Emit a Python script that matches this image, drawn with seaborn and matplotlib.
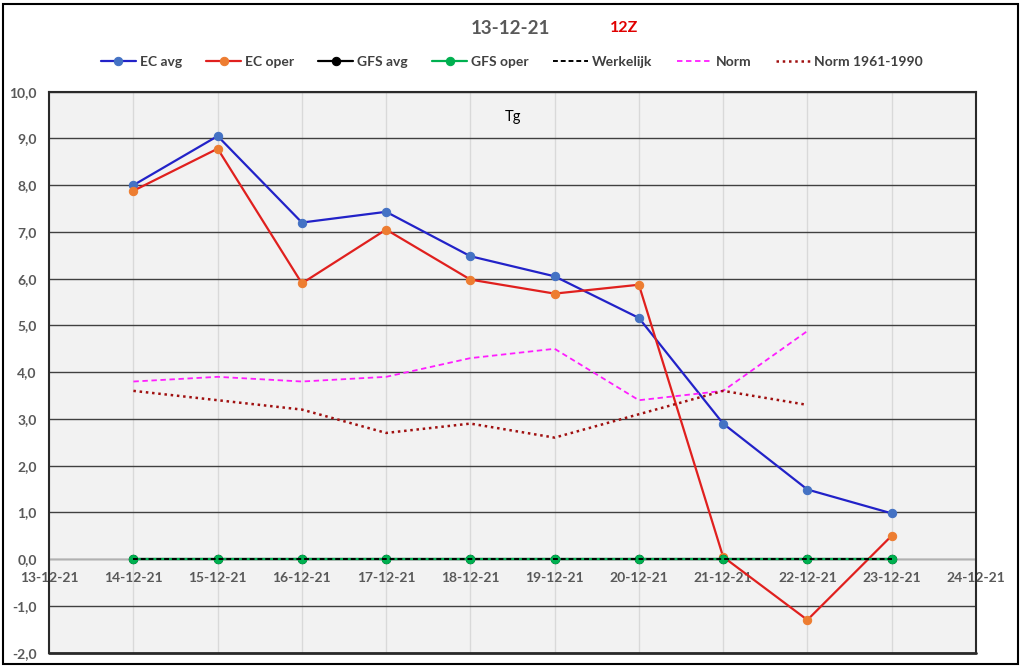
import pandas as pd
import numpy as np
import matplotlib
matplotlib.use("Agg")
import matplotlib.pyplot as plt
import matplotlib.dates as mdates
from matplotlib.ticker import FuncFormatter, MultipleLocator
from matplotlib.patches import Rectangle
import seaborn as sns

# data (Tg, deg C)
dates = ['2021-12-14', '2021-12-15', '2021-12-16', '2021-12-17', '2021-12-18',
         '2021-12-19', '2021-12-20', '2021-12-21', '2021-12-22', '2021-12-23']
ec_avg = [8.0, 9.05, 7.2, 7.43, 6.48, 6.05, 5.16, 2.9, 1.49, 0.98]
ec_oper = [7.88, 8.78, 5.9, 7.05, 5.98, 5.68, 5.87, 0.05, -1.3, 0.5]
gfs_avg = [0.0, 0.0, 0.0, 0.0, 0.0, 0.0, 0.0, 0.0, 0.0, 0.0]
gfs_oper = [0.0, 0.0, 0.0, 0.0, 0.0, 0.0, 0.0, 0.0, 0.0, 0.0]
werkelijk = [0.0, 0.0, 0.0, 0.0, 0.0, 0.0, 0.0, 0.0, 0.0, 0.0]
norm = [3.8, 3.9, 3.8, 3.9, 4.3, 4.5, 3.4, 3.6, 4.88]
norm_6190 = [3.6, 3.4, 3.2, 2.7, 2.9, 2.6, 3.1, 3.6, 3.3]

run_date = '13-12-21'
run_hour = '12Z'
param = 'Tg'

x = pd.to_datetime(dates)

sns.set_style("white")
plt.rcParams['font.family'] = ['Lato', 'DejaVu Sans']

fig = plt.figure(figsize=(10.24, 6.69), dpi=100)
ax = fig.add_axes([0.048, 0.0244, 0.905, 0.8386])
ax.set_facecolor('#f2f2f2')

# gridlines: dark horizontal, light vertical
ax.grid(axis='y', color='#404040', lw=1.0, zorder=0)
ax.grid(axis='x', color='#d9d9d9', lw=1.0, zorder=0)
ax.set_axisbelow(True)
ax.axhline(0, color='#c8c8c8', lw=1.2, zorder=1)

sns.lineplot(x=x, y=ec_avg, ax=ax, color='#2222c8', lw=1.6, marker='o', markersize=6,
             markerfacecolor='#4472c4', markeredgecolor='#4472c4', label='EC avg')
sns.lineplot(x=x, y=ec_oper, ax=ax, color='#e0201e', lw=1.6, marker='o', markersize=6,
             markerfacecolor='#ed7d31', markeredgecolor='#ed7d31', label='EC oper')
sns.lineplot(x=x, y=gfs_avg, ax=ax, color='black', lw=1.6, marker='o', markersize=6,
             markerfacecolor='black', markeredgecolor='black', label='GFS avg')
sns.lineplot(x=x, y=gfs_oper, ax=ax, color='#00b050', lw=1.6, marker='o', markersize=6,
             markerfacecolor='#00b050', markeredgecolor='#00b050', label='GFS oper')
sns.lineplot(x=x, y=werkelijk, ax=ax, color='black', lw=1.4, linestyle=(0, (2.5, 1.5)),
             label='Werkelijk')
sns.lineplot(x=x[:len(norm)], y=norm, ax=ax, color='#ff1dff', lw=1.3, linestyle=(0, (3, 2)),
             label='Norm')
sns.lineplot(x=x[:len(norm_6190)], y=norm_6190, ax=ax, color='#a01010', lw=1.8,
             linestyle=(0, (1, 1.5)), label='Norm 1961-1990')

ax.set_xlim(pd.Timestamp('2021-12-13'), pd.Timestamp('2021-12-24'))
ax.set_ylim(-2, 10)
ax.yaxis.set_major_locator(MultipleLocator(1))
ax.yaxis.set_major_formatter(FuncFormatter(lambda v, p: f"{v:.1f}".replace('.', ',')))
ax.xaxis.set_major_locator(mdates.DayLocator())
ax.xaxis.set_major_formatter(mdates.DateFormatter('%d-%m-%y'))

# x labels sit under the zero line like in Excel
ax.spines['bottom'].set_position(('data', 0))
ax.spines['bottom'].set_visible(False)
ax.axhline(-2, color='#2a2a2a', lw=2.0, clip_on=False, zorder=3)
for s in ['left', 'right', 'top']:
    ax.spines[s].set_color('#2a2a2a')
    ax.spines[s].set_linewidth(1.5)
ax.tick_params(axis='x', length=0, pad=9, labelsize=10, labelcolor='#595959')
ax.tick_params(axis='y', length=0, pad=9, labelsize=10, labelcolor='#595959')
for lab in ax.get_xticklabels() + ax.get_yticklabels():
    lab.set_fontweight('bold')
ax.set_xlabel('')
ax.set_ylabel('')

ax.text(0.5, 0.955, param, transform=ax.transAxes, ha='center', va='center',
        fontsize=10.5, color='black')

handles, labels = ax.get_legend_handles_labels()
ax.legend_.remove()
leg = fig.legend(handles, labels, loc='center', bbox_to_anchor=(0.5, 0.907), ncol=7,
                 frameon=False, fontsize=10, handlelength=2.5, columnspacing=1.75,
                 handletextpad=0.3)
for t in leg.get_texts():
    t.set_color('#404040')
    t.set_fontweight('bold')

fig.text(0.498, 0.958, run_date, ha='center', va='center', fontsize=13.5,
         fontweight='bold', color='#595959')
fig.text(0.609, 0.958, run_hour, ha='center', va='center', fontsize=11.5,
         fontweight='bold', color='#e00000')

fig.patches.append(Rectangle((0.003, 0.008), 0.991, 0.986, transform=fig.transFigure,
                             fill=False, edgecolor='black', lw=1.5))

fig.savefig('out.png', dpi=100)
